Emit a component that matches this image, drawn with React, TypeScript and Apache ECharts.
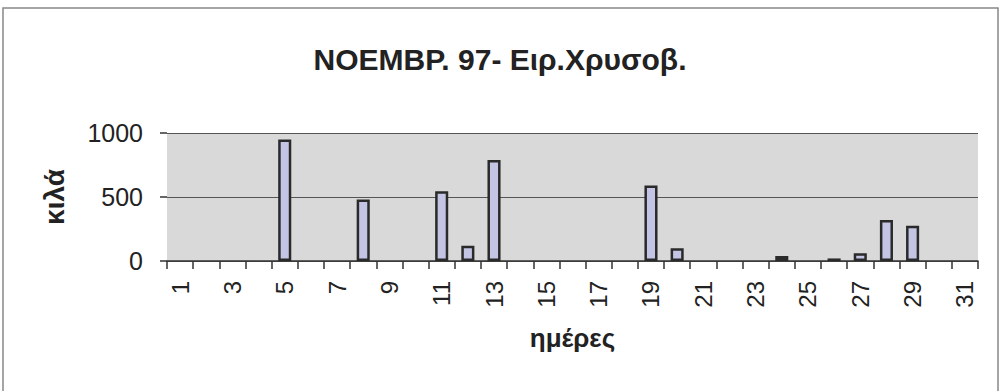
import React, { useEffect, useRef } from "react";
import * as echarts from "echarts";

const days: string[] = Array.from({ length: 31 }, (_, i) => String(i + 1));
const kilos: (number | null)[] = [
  null, null, null, null, 950, null, null, 480, null, null,
  545, 120, 790, null, null, null, null, null, 590, 100,
  null, null, null, 40, null, 20, 60, 320, 275, null, null,
];
const yTicks = { min: 0, max: 1000, interval: 500 };
const titleText = "NOEMBP. 97- Ειρ.Χρυσοβ.";
const xName = "ημέρες";
const yName = "κιλά";

export default function App() {
  const ref = useRef<HTMLDivElement>(null);
  useEffect(() => {
    if (!ref.current) return;
    const chart = echarts.init(ref.current, null, { renderer: "svg" });
    const font = "Liberation Sans, Arial, sans-serif";
    chart.setOption({
      animation: false,
      backgroundColor: "#ffffff",
      title: {
        text: titleText,
        left: "center",
        top: 39,
        textStyle: { fontFamily: font, fontSize: 30, fontWeight: "bold", color: "#222" },
      },
      graphic: [
        {
          type: "polyline",
          shape: { points: [[3, 391], [3, 8], [998, 8], [998, 391]] },
          style: { stroke: "#888", lineWidth: 1.5, fill: "none" },
          silent: true,
        },
      ],
      grid: {
        left: 167,
        right: 22,
        top: 133,
        bottom: 130,
        show: true,
        backgroundColor: "#d9d9d9",
        borderWidth: 0,
      },
      xAxis: {
        type: "category",
        data: days,
        boundaryGap: true,
        name: xName,
        nameLocation: "middle",
        nameGap: 64,
        nameTextStyle: { fontFamily: font, fontSize: 26, fontWeight: "bold", color: "#222" },
        axisLine: { show: true, lineStyle: { color: "#333", width: 1.5 } },
        axisTick: { show: true, interval: 0, length: 8, alignWithLabel: false, lineStyle: { color: "#333", width: 1.5 } },
        axisLabel: {
          interval: 1,
          rotate: 90,
          margin: 20,
          fontFamily: font,
          fontSize: 24,
          color: "#222",
        },
        splitLine: { show: false },
      },
      yAxis: {
        type: "value",
        min: yTicks.min,
        max: yTicks.max,
        interval: yTicks.interval,
        name: yName,
        nameLocation: "middle",
        nameGap: 99,
        nameTextStyle: { fontFamily: font, fontSize: 28, fontWeight: "bold", color: "#222" },
        axisLine: { show: false },
        axisTick: { show: true, length: 7, lineStyle: { color: "#333", width: 1.5 } },
        axisLabel: {
          margin: 24,
          fontFamily: font,
          fontSize: 25,
          color: "#222",
          formatter: (v: number) => String(v),
        },
        splitLine: { show: true, lineStyle: { color: "#555", width: 1 } },
      },
      series: [
        {
          type: "bar",
          data: kilos,
          barWidth: "50%",
          itemStyle: { color: "#c4c4e4", borderColor: "#2a2a2a", borderWidth: 2.5 },
        },
      ],
    });
    return () => chart.dispose();
  }, []);
  return (
    <div
      ref={ref}
      style={{ position: "fixed", left: 0, top: 0, width: 1000, height: 391 }}
    />
  );
}
